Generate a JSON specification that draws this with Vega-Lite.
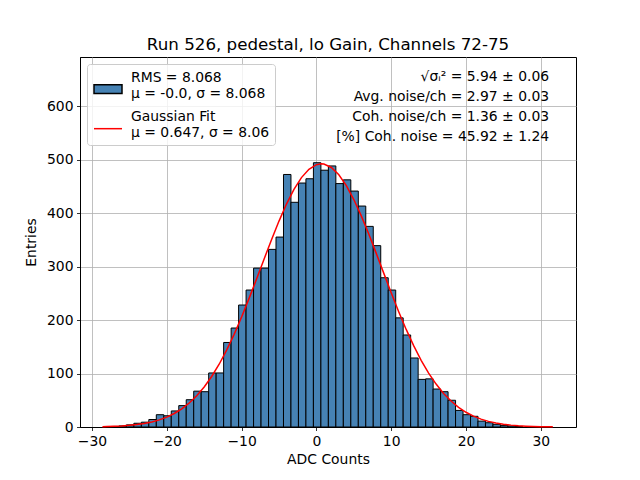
{
  "$schema": "https://vega.github.io/schema/vega-lite/v6.json",
  "width": 496,
  "height": 370,
  "autosize": {"type": "none"},
  "padding": {"left": 80, "top": 57, "right": 64, "bottom": 53},
  "background": "white",
  "title": {
    "text": "Run 526, pedestal, lo Gain, Channels 72-75",
    "font": "DejaVu Sans",
    "fontSize": 16.7,
    "fontWeight": "normal",
    "color": "black",
    "baseline": "alphabetic",
    "offset": -10
  },
  "datasets": {
    "hist": [
      {"lo": -27.4, "hi": -26.4, "count": 1},
      {"lo": -26.4, "hi": -25.4, "count": 2},
      {"lo": -25.4, "hi": -24.4, "count": 4},
      {"lo": -24.4, "hi": -23.4, "count": 7},
      {"lo": -23.4, "hi": -22.4, "count": 9},
      {"lo": -22.4, "hi": -21.4, "count": 14},
      {"lo": -21.4, "hi": -20.4, "count": 23},
      {"lo": -20.4, "hi": -19.4, "count": 21},
      {"lo": -19.4, "hi": -18.4, "count": 30},
      {"lo": -18.4, "hi": -17.4, "count": 40},
      {"lo": -17.4, "hi": -16.4, "count": 51},
      {"lo": -16.4, "hi": -15.4, "count": 67},
      {"lo": -15.4, "hi": -14.4, "count": 66},
      {"lo": -14.4, "hi": -13.4, "count": 101},
      {"lo": -13.4, "hi": -12.4, "count": 101},
      {"lo": -12.4, "hi": -11.4, "count": 158},
      {"lo": -11.4, "hi": -10.4, "count": 185},
      {"lo": -10.4, "hi": -9.4, "count": 228},
      {"lo": -9.4, "hi": -8.4, "count": 256},
      {"lo": -8.4, "hi": -7.4, "count": 297},
      {"lo": -7.4, "hi": -6.4, "count": 297},
      {"lo": -6.4, "hi": -5.4, "count": 332},
      {"lo": -5.4, "hi": -4.4, "count": 355},
      {"lo": -4.4, "hi": -3.4, "count": 472},
      {"lo": -3.4, "hi": -2.4, "count": 420},
      {"lo": -2.4, "hi": -1.4, "count": 456},
      {"lo": -1.4, "hi": -0.4, "count": 464},
      {"lo": -0.4, "hi": 0.6, "count": 494},
      {"lo": 0.6, "hi": 1.6, "count": 480},
      {"lo": 1.6, "hi": 2.6, "count": 488},
      {"lo": 2.6, "hi": 3.6, "count": 455},
      {"lo": 3.6, "hi": 4.6, "count": 462},
      {"lo": 4.6, "hi": 5.6, "count": 441},
      {"lo": 5.6, "hi": 6.6, "count": 413},
      {"lo": 6.6, "hi": 7.6, "count": 375},
      {"lo": 7.6, "hi": 8.6, "count": 339},
      {"lo": 8.6, "hi": 9.6, "count": 279},
      {"lo": 9.6, "hi": 10.6, "count": 256},
      {"lo": 10.6, "hi": 11.6, "count": 204},
      {"lo": 11.6, "hi": 12.6, "count": 172},
      {"lo": 12.6, "hi": 13.6, "count": 129},
      {"lo": 13.6, "hi": 14.6, "count": 89},
      {"lo": 14.6, "hi": 15.6, "count": 90},
      {"lo": 15.6, "hi": 16.6, "count": 71},
      {"lo": 16.6, "hi": 17.6, "count": 66},
      {"lo": 17.6, "hi": 18.6, "count": 50},
      {"lo": 18.6, "hi": 19.6, "count": 31},
      {"lo": 19.6, "hi": 20.6, "count": 23},
      {"lo": 20.6, "hi": 21.6, "count": 20},
      {"lo": 21.6, "hi": 22.6, "count": 11},
      {"lo": 22.6, "hi": 23.6, "count": 8},
      {"lo": 23.6, "hi": 24.6, "count": 5},
      {"lo": 24.6, "hi": 25.6, "count": 3},
      {"lo": 25.6, "hi": 26.6, "count": 2},
      {"lo": 26.6, "hi": 27.6, "count": 1}
    ],
    "fit": [
      {"adc": -28.6, "entries": 0.68},
      {"adc": -28, "entries": 0.89},
      {"adc": -27, "entries": 1.37},
      {"adc": -26, "entries": 2.08},
      {"adc": -25, "entries": 3.12},
      {"adc": -24, "entries": 4.59},
      {"adc": -23, "entries": 6.65},
      {"adc": -22, "entries": 9.5},
      {"adc": -21, "entries": 13.35},
      {"adc": -20, "entries": 18.49},
      {"adc": -19, "entries": 25.22},
      {"adc": -18, "entries": 33.87},
      {"adc": -17, "entries": 44.79},
      {"adc": -16, "entries": 58.31},
      {"adc": -15, "entries": 74.78},
      {"adc": -14, "entries": 94.42},
      {"adc": -13, "entries": 117.3},
      {"adc": -12, "entries": 143.7},
      {"adc": -11, "entries": 173.2},
      {"adc": -10, "entries": 205.6},
      {"adc": -9, "entries": 240.4},
      {"adc": -8, "entries": 276.7},
      {"adc": -7, "entries": 313.7},
      {"adc": -6, "entries": 350.2},
      {"adc": -5, "entries": 384.9},
      {"adc": -4, "entries": 416.7},
      {"adc": -3, "entries": 444.1},
      {"adc": -2, "entries": 466.2},
      {"adc": -1, "entries": 481.8},
      {"adc": 0, "entries": 490.4},
      {"adc": 0.65, "entries": 492},
      {"adc": 1, "entries": 491.5},
      {"adc": 2, "entries": 485.1},
      {"adc": 3, "entries": 471.5},
      {"adc": 4, "entries": 451.2},
      {"adc": 5, "entries": 425.2},
      {"adc": 6, "entries": 394.6},
      {"adc": 7, "entries": 360.6},
      {"adc": 8, "entries": 324.5},
      {"adc": 9, "entries": 287.6},
      {"adc": 10, "entries": 250.9},
      {"adc": 11, "entries": 215.6},
      {"adc": 12, "entries": 182.4},
      {"adc": 13, "entries": 152.0},
      {"adc": 14, "entries": 124.7},
      {"adc": 15, "entries": 100.8},
      {"adc": 16, "entries": 80.2},
      {"adc": 17, "entries": 62.8},
      {"adc": 18, "entries": 48.5},
      {"adc": 19, "entries": 36.8},
      {"adc": 20, "entries": 27.5},
      {"adc": 21, "entries": 20.3},
      {"adc": 22, "entries": 14.7},
      {"adc": 23, "entries": 10.5},
      {"adc": 24, "entries": 7.39},
      {"adc": 25, "entries": 5.12},
      {"adc": 26, "entries": 3.5},
      {"adc": 27, "entries": 2.35},
      {"adc": 28, "entries": 1.55},
      {"adc": 29, "entries": 1.01},
      {"adc": 30, "entries": 0.65},
      {"adc": 31, "entries": 0.41},
      {"adc": 31.6, "entries": 0.31}
    ],
    "keys": [
      {"series": "RMS = 8.068|μ = -0.0, σ = 8.068"},
      {"series": "Gaussian Fit|μ = 0.647, σ = 8.06"}
    ],
    "notes": [
      {"what": "noise summary"}
    ]
  },
  "layer": [
    {
      "data": {"name": "hist"},
      "mark": {"type": "bar", "fill": "#4682b4", "stroke": "black", "strokeWidth": 1, "opacity": 1},
      "encoding": {
        "x": {
          "field": "lo",
          "type": "quantitative",
          "scale": {"domain": [-31.6, 34.7], "nice": false, "zero": false},
          "axis": {"values": [-30, -20, -10, 0, 10, 20, 30], "titlePadding": 5},
          "title": "ADC Counts"
        },
        "x2": {"field": "hi"},
        "y": {
          "field": "count",
          "type": "quantitative",
          "scale": {"domain": [0, 691.6], "nice": false},
          "axis": {"values": [0, 100, 200, 300, 400, 500, 600], "titlePadding": 8},
          "title": "Entries"
        },
        "y2": {"datum": 0}
      }
    },
    {
      "data": {"name": "fit"},
      "mark": {"type": "line", "stroke": "#ff0000", "strokeWidth": 1.5},
      "encoding": {
        "x": {"field": "adc", "type": "quantitative"},
        "y": {"field": "entries", "type": "quantitative"}
      }
    },
    {
      "data": {"name": "keys"},
      "mark": {"type": "point", "opacity": 1},
      "encoding": {
        "x": {"field": "unplaced", "type": "quantitative"},
        "y": {"field": "unplaced", "type": "quantitative"},
        "shape": {
          "field": "series",
          "type": "nominal",
          "scale": {
            "domain": ["RMS = 8.068|μ = -0.0, σ = 8.068", "Gaussian Fit|μ = 0.647, σ = 8.06"],
            "range": ["M-1.75,0.83H1.75V1.95H-1.75Z", "M-1.75,1.46H1.75"]
          },
          "legend": {"title": null, "labelExpr": "split(datum.label, '|')", "zindex": 2}
        },
        "fill": {
          "field": "series",
          "type": "nominal",
          "scale": {
            "domain": ["RMS = 8.068|μ = -0.0, σ = 8.068", "Gaussian Fit|μ = 0.647, σ = 8.06"],
            "range": ["#4682b4", "transparent"]
          },
          "legend": {"title": null, "labelExpr": "split(datum.label, '|')", "zindex": 2}
        },
        "stroke": {
          "field": "series",
          "type": "nominal",
          "scale": {
            "domain": ["RMS = 8.068|μ = -0.0, σ = 8.068", "Gaussian Fit|μ = 0.647, σ = 8.06"],
            "range": ["black", "#ff0000"]
          },
          "legend": {"title": null, "labelExpr": "split(datum.label, '|')", "zindex": 2}
        }
      }
    },
    {
      "data": {"name": "notes"},
      "mark": {
        "type": "text",
        "align": "right",
        "baseline": "top",
        "font": "DejaVu Sans",
        "fontSize": 13.9,
        "lineHeight": 20,
        "color": "black",
        "text": ["√σᵢ² = 5.94 ± 0.06", "Avg. noise/ch = 2.97 ± 0.03", "Coh. noise/ch = 1.36 ± 0.03", "[%] Coh. noise = 45.92 ± 1.24"]
      },
      "encoding": {
        "x": {"datum": 31.1, "type": "quantitative"},
        "y": {"datum": 667.5, "type": "quantitative"}
      }
    }
  ],
  "config": {
    "view": {"stroke": "black", "strokeWidth": 1},
    "axis": {
      "grid": true,
      "gridColor": "#b0b0b0",
      "gridWidth": 0.8,
      "domainColor": "black",
      "domainWidth": 1,
      "tickColor": "black",
      "tickSize": 3.5,
      "tickWidth": 0.8,
      "labelPadding": 3.5,
      "labelFont": "DejaVu Sans",
      "labelFontSize": 13.9,
      "labelColor": "black",
      "labelFlush": false,
      "labelOverlap": false,
      "titleFont": "DejaVu Sans",
      "titleFontSize": 13.9,
      "titleFontWeight": "normal",
      "titleColor": "black",
      "zindex": 1
    },
    "legend": {
      "orient": "top-left",
      "offset": 7,
      "padding": 5,
      "rowPadding": 7,
      "fillColor": "rgba(255,255,255,0.8)",
      "strokeColor": "#cccccc",
      "cornerRadius": 3,
      "labelFont": "DejaVu Sans",
      "labelFontSize": 13.9,
      "labelColor": "black",
      "labelLimit": 400,
      "labelOffset": 14,
      "symbolOffset": 7,
      "symbolSize": 256,
      "symbolStrokeWidth": 1.5,
      "symbolOpacity": 1
    }
  }
}
